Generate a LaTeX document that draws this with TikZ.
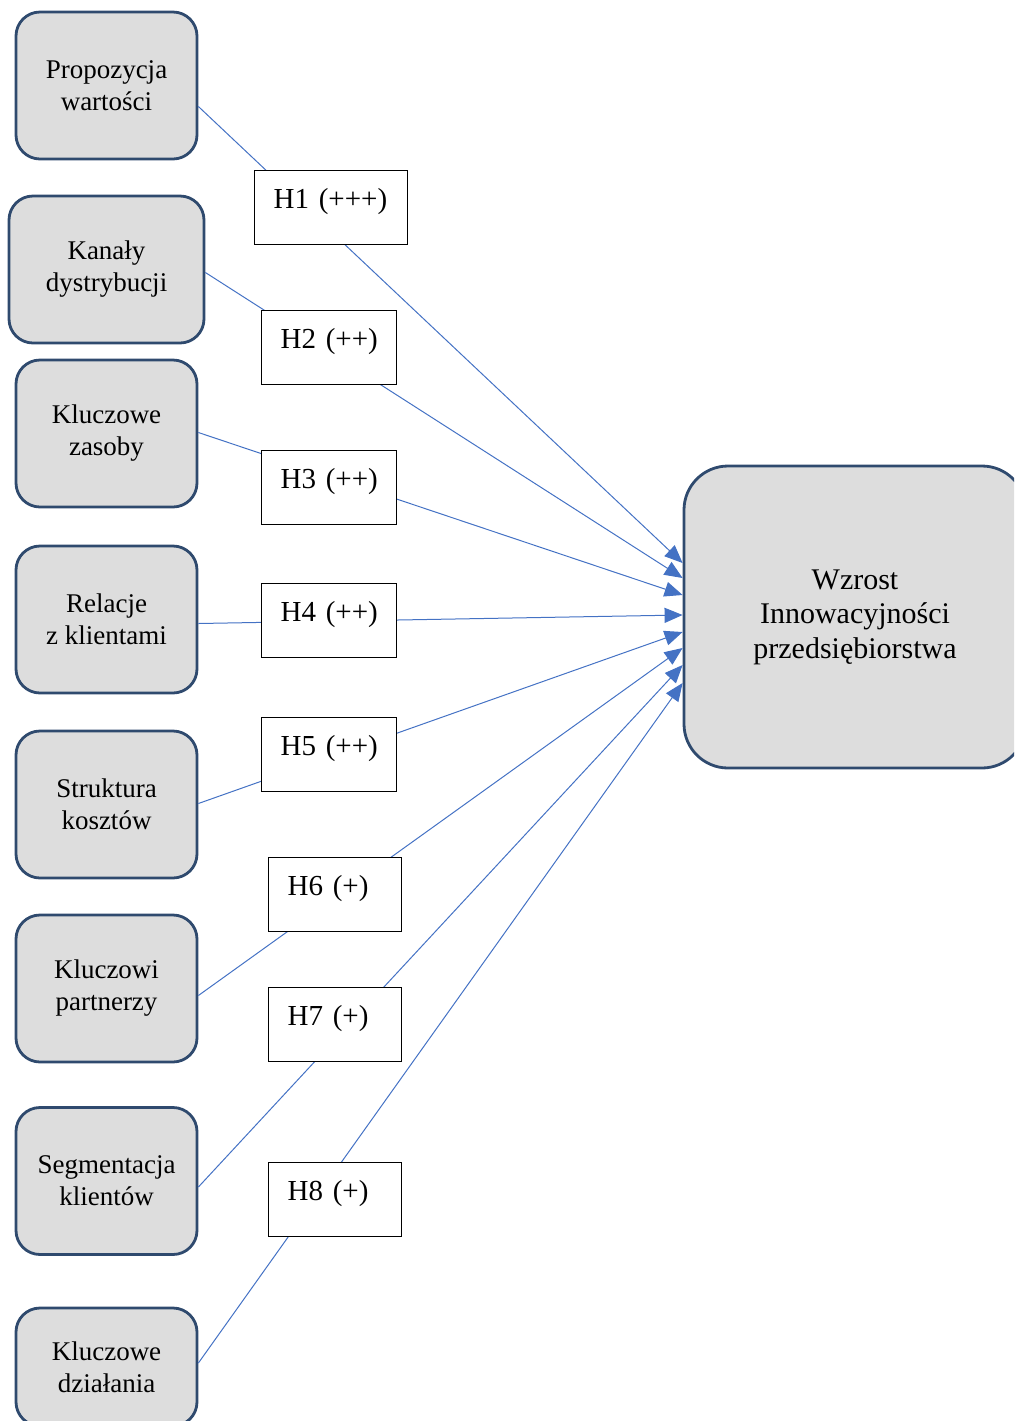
\documentclass[tikz,border=0pt]{standalone}
\usepackage{fontspec}
\setmainfont{Liberation Serif}
\usetikzlibrary{arrows.meta,calc}
\definecolor{boxfill}{HTML}{DDDDDD}
\definecolor{boxline}{HTML}{2F4A6E}
\definecolor{arrowblue}{HTML}{4472C4}

\begin{document}
\begin{tikzpicture}[x=0.5pt,y=-0.5pt,
  blok/.style={rectangle,rounded corners=12pt,draw=boxline,line width=1.4pt,fill=boxfill,
    minimum width=90.5pt,minimum height=73.5pt,align=center,font=\fontsize{13.5}{16}\selectfont},
  hip/.style={rectangle,draw=black,line width=0.7pt,fill=white,anchor=north west,align=left,
    inner xsep=9.5pt,inner ysep=0pt,text height=19pt,text depth=18pt,font=\fontsize{14.5}{18}\selectfont},
  conn/.style={draw=arrowblue,line width=0.5pt,-{Triangle[length=9pt,width=7.5pt]}}]
\useasboundingbox (0,0) rectangle (1014,1421);
\clip (0,0) rectangle (1014,1421);
% left column
\node[blok] (b1) at (106.5,85.5) {Propozycja\\wartości};
\node[blok,minimum width=97.5pt] (b2) at (106.5,269.5) {Kanały\\dystrybucji};
\node[blok] (b3) at (106.5,433.5) {Kluczowe\\zasoby};
\node[blok] (b4) at (106.5,619.5) {Relacje\\z klientami};
\node[blok] (b5) at (106.5,804.5) {Struktura\\kosztów};
\node[blok] (b6) at (106.5,988.5) {Kluczowi\\partnerzy};
\node[blok] (b7) at (106.5,1181) {Segmentacja\\klientów};
\node[blok,minimum height=59pt] (b8) at (106.5,1367) {Kluczowe\\działania};
% target
\node[blok,rounded corners=22pt,minimum width=171pt,minimum height=151pt,
  font=\fontsize{15}{17.25}\selectfont] (wz) at (855,617) {Wzrost\\Innowacyjności\\przedsiębiorstwa};
% connectors
\draw[conn] ($(b1.east)+(0,21)$) -- ($(wz.west)+(0,-54)$);
\draw[conn] ($(b2.east)+(0,3)$) -- ($(wz.west)+(0,-39)$);
\draw[conn] ($(b3.east)+(0,-1)$) -- ($(wz.west)+(0,-22)$);
\draw[conn] ($(b4.east)+(0,4)$) -- ($(wz.west)+(0,-2)$);
\draw[conn] ($(b5.east)+(0,-1)$) -- ($(wz.west)+(0,15)$);
\draw[conn] ($(b6.east)+(0,7)$) -- ($(wz.west)+(0,31)$);
\draw[conn] ($(b7.east)+(0,6)$) -- ($(wz.west)+(0,48)$);
\draw[conn] ($(b8.east)+(0,-4)$) -- ($(wz.west)+(0,66)$);
% hypotheses
\node[hip,text width=57.5pt] (h1) at (254,170) {H1~(+++)};
\node[hip,text width=48.5pt] (h2) at (261,310) {H2~(++)};
\node[hip,text width=48.5pt] (h3) at (261,450) {H3~(++)};
\node[hip,text width=48.5pt] (h4) at (261,583) {H4~(++)};
\node[hip,text width=48.5pt] (h5) at (261,717) {H5~(++)};
\node[hip,text width=47.5pt] (h6) at (268,857) {H6~(+)};
\node[hip,text width=47.5pt] (h7) at (268,987) {H7~(+)};
\node[hip,text width=47.5pt] (h8) at (268,1162) {H8~(+)};
\end{tikzpicture}
\end{document}
